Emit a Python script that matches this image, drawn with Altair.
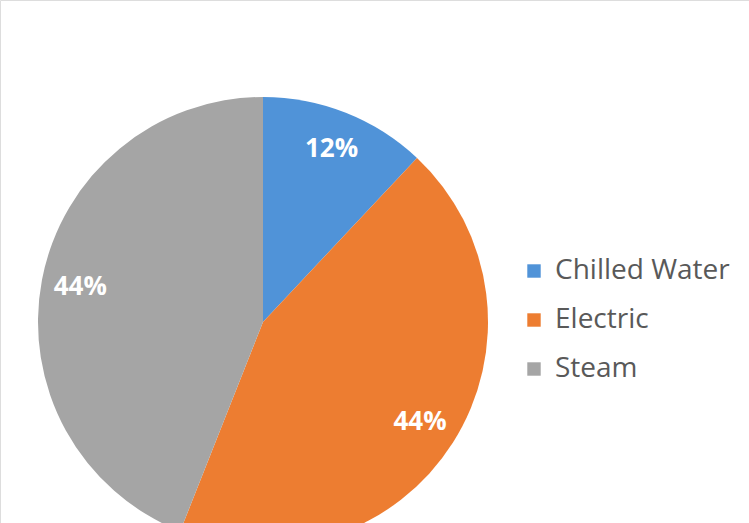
import altair as alt
import pandas as pd

categories = ["Chilled Water", "Electric", "Steam"]
values = [12, 44, 44]
labels = ["12%", "44%", "44%"]
colors = ["#5093D8", "#ED7D31", "#A5A5A5"]

df = pd.DataFrame({"cat": categories, "val": values, "label": labels, "ord": [0, 1, 2]})

cx, cy, R = 263, 322, 225

base = alt.Chart(df).encode(
    theta=alt.Theta("val:Q", stack=True),
    order=alt.Order("ord:Q"),
    x=alt.value(cx),
    y=alt.value(cy),
)

pie = base.mark_arc(stroke=None).encode(
    radius=alt.value(R),
    color=alt.Color(
        "cat:N",
        scale=alt.Scale(domain=categories, range=colors),
        sort=categories,
        legend=alt.Legend(
            title=None,
            orient="none",
            legendX=520,
            legendY=257,
            labelFont="Open Sans",
            labelFontSize=28,
            labelColor="#595959",
            symbolType="square",
            symbolSize=180,
            symbolStrokeWidth=0,
            rowPadding=21,
            labelOffset=7,
            labelLimit=400,
        ),
    ),
)

text = base.mark_text(
    font="Open Sans", fontSize=26, fontWeight="bold", color="white"
).encode(
    radius=alt.value(186),
    text="label:N",
)

chart = (
    alt.layer(pie, text)
    .properties(width=749, height=523, autosize=alt.AutoSizeParams(type="none"), padding=0)
    .configure_view(stroke=None, strokeWidth=0)
    .configure(background="white")
)

chart.save("out.html", embed_options={"renderer": "svg", "actions": False})
